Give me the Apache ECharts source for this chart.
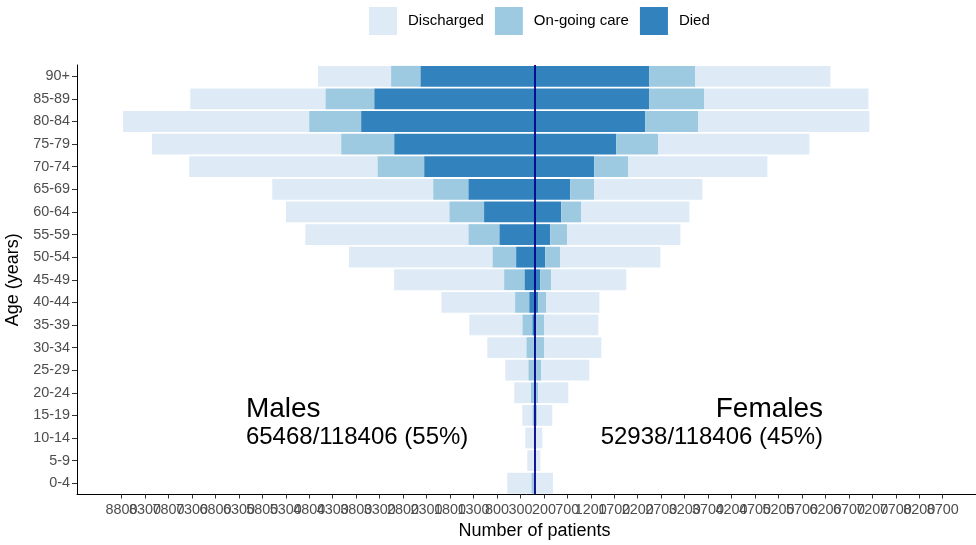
<!DOCTYPE html>
<html>
<head>
<meta charset="utf-8">
<script src="https://cdn.jsdelivr.net/npm/echarts@6/dist/echarts.min.js"></script>
<style>
html,body{margin:0;padding:0;background:#fff;}
#chart{width:976px;height:545px;}
</style>
</head>
<body>
<div id="chart"></div>
<script>
// Age groups (bottom to top)
const ages = ['0-4','5-9','10-14','15-19','20-24','25-29','30-34','35-39','40-44','45-49','50-54','55-59','60-64','65-69','70-74','75-79','80-84','85-89','90+'];

// Males (counts)
const maleDied       = [2,0,1,2,5,10,20,47,113,215,392,750,1075,1411,2352,2991,3695,3416,2433];
const maleOngoing    = [66,12,19,45,78,122,155,213,301,433,506,661,741,749,997,1130,1108,1042,624];
const maleDischarged = [512,142,176,213,348,491,831,1130,1571,2343,3055,3473,3480,3430,4011,4030,3966,2878,1557];

// Females (counts)
const femaleDied       = [2,0,1,3,5,8,10,28,81,124,230,337,571,763,1275,1744,2362,2448,2448];
const femaleOngoing    = [10,10,19,57,76,137,199,181,171,234,320,362,427,512,725,895,1130,1172,980];
const femaleDischarged = [381,114,146,319,640,1023,1215,1151,1130,1599,2132,2409,2302,2302,2963,3220,3646,3497,2879];

// X-axis tick positions (labels shown as absolute values)
const xTicks = [-8800,-8300,-7800,-7300,-6800,-6300,-5800,-5300,-4800,-4300,-3800,-3300,-2800,-2300,-1800,-1300,-800,-300,
                200,700,1200,1700,2200,2700,3200,3700,4200,4700,5200,5700,6200,6700,7200,7700,8200,8700];

const outcomes = ['Discharged','On-going care','Died'];
const colors = {'Discharged':'#deebf7','On-going care':'#9ecae1','Died':'#3182bd'};

const maleLabel = 'Males';
const maleSummary = '65468/118406 (55%)';
const femaleLabel = 'Females';
const femaleSummary = '52938/118406 (45%)';

const axisMax = 9750;

const neg = a => a.map(v => -v);
// blank label slots at the axis ends so every real tick label is kept
const labelValues = [-axisMax].concat(xTicks, [axisMax]);

function bar(name, data, extra) {
  return Object.assign({
    name: name, type: 'bar', stack: 'pop',
    data: data, barCategoryGap: '8%',
    itemStyle: {color: colors[name]},
    emphasis: {disabled: true}
  }, extra || {});
}

const series = [
  bar('Died', neg(maleDied), {
    markLine: {
      silent: true, symbol: ['none','none'], label: {show: false},
      lineStyle: {color: '#00008b', width: 1.8, type: 'solid'},
      data: [{xAxis: 0}]
    }
  }),
  bar('On-going care', neg(maleOngoing)),
  bar('Discharged', neg(maleDischarged)),
  bar('Died', femaleDied),
  bar('On-going care', femaleOngoing),
  bar('Discharged', femaleDischarged)
];

const chart = echarts.init(document.getElementById('chart'), null, {renderer: 'canvas'});
const FONT = '"Liberation Sans", Arial, Helvetica, sans-serif';
chart.setOption({
  animation: false,
  textStyle: {fontFamily: FONT},
  legend: {
    data: outcomes, left: 369, top: 7, padding: 0, icon: 'rect',
    itemWidth: 28, itemHeight: 28, itemGap: 11,
    textStyle: {fontSize: 15, color: '#000', fontFamily: FONT, padding: [0,0,0,6]}
  },
  grid: {left: 77, right: -16, top: 65, bottom: 50.5, containLabel: false, outerBoundsMode: 'none'},
  xAxis: {
    type: 'value', min: -axisMax, max: axisMax,
    axisLine: {show: true, onZero: false, lineStyle: {color: '#000', width: 1}},
    axisTick: {show: true, length: 4, customValues: xTicks, lineStyle: {color: '#333', width: 1}},
    axisLabel: {show: true, margin: 9, fontSize: 14.4, color: '#4d4d4d', fontFamily: FONT,
      customValues: labelValues, hideOverlap: false,
      formatter: v => (xTicks.indexOf(v) >= 0 ? String(Math.abs(v)) : '')},
    splitLine: {show: false},
    name: 'Number of patients', nameLocation: 'middle', nameGap: 27,
    nameTextStyle: {fontSize: 18, color: '#000', fontFamily: FONT}
  },
  yAxis: {
    type: 'category', data: ages,
    axisLine: {show: true, onZero: false, lineStyle: {color: '#000', width: 1}},
    axisTick: {show: true, length: 5, alignWithLabel: true, lineStyle: {color: '#333'}},
    axisLabel: {margin: 7, fontSize: 14.4, color: '#4d4d4d', fontFamily: FONT},
    name: 'Age (years)', nameLocation: 'middle', nameGap: 51, nameRotate: 90,
    nameTextStyle: {fontSize: 18, color: '#000', fontFamily: FONT}
  },
  series: series
});

// Text annotations placed relative to the data axes
function px(v, cat) { return chart.convertToPixel({xAxisIndex: 0, yAxisIndex: 0}, [v, cat]); }
const pM = px(-6150, '15-19');
const pF = px(6150, '15-19');
chart.setOption({
  graphic: [
    {type: 'text', x: pM[0], y: pM[1] - 6, style: {text: maleLabel, font: '28px ' + FONT, fill: '#000', textAlign: 'left', textVerticalAlign: 'middle'}},
    {type: 'text', x: pM[0], y: pM[1] + 22, style: {text: maleSummary, font: '24px ' + FONT, fill: '#000', textAlign: 'left', textVerticalAlign: 'middle'}},
    {type: 'text', x: pF[0], y: pF[1] - 6, style: {text: femaleLabel, font: '28px ' + FONT, fill: '#000', textAlign: 'right', textVerticalAlign: 'middle'}},
    {type: 'text', x: pF[0], y: pF[1] + 22, style: {text: femaleSummary, font: '24px ' + FONT, fill: '#000', textAlign: 'right', textVerticalAlign: 'middle'}}
  ]
});
</script>
</body>
</html>
